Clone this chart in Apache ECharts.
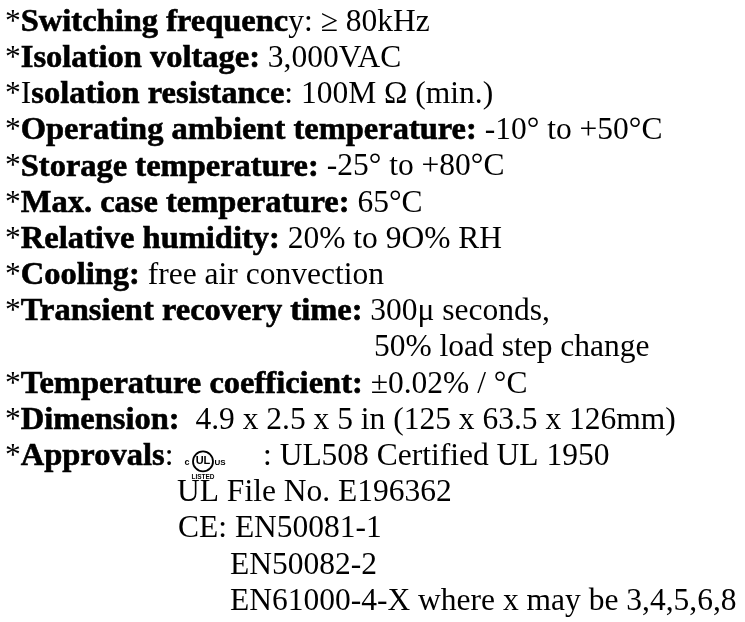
<!DOCTYPE html>
<html>
<head>
<meta charset="utf-8">
<script src="https://cdn.jsdelivr.net/npm/echarts@6/dist/echarts.min.js"></script>
<style>
  html, body { margin: 0; padding: 0; background: #fff; }
  #main { width: 745px; height: 622px; }
</style>
</head>
<body>
<div id="main"></div>
<script>
// spec lines, {r|} = regular, {b|} = bold
const specLines = [
  '{r|*}{b|Switching frequenc}{r|y: ≥ 80kHz}',
  '{r|*}{b|Isolation voltage:}{r| 3,000VAC}',
  '{r|*I}{b|solation resistance}{r|: 100M Ω (min.)}',
  '{r|*}{b|Operating ambient temperature:}{r| -10° to +50°C}',
  '{r|*}{b|Storage temperature:}{r| -25° to +80°C}',
  '{r|*}{b|Max. case temperature:}{r| 65°C}',
  '{r|*}{b|Relative humidity:}{r| 20% to 9O% RH}',
  '{r|*}{b|Cooling:}{r| free air convection}',
  '{r|*}{b|Transient recovery time:}{r| 300μ seconds,}',
  '{r|50% load step change}',
  '{r|*}{b|Temperature coefficient:}{r| ±0.02% / °C}',
  '{r|*}{b|Dimension:}{r|  4.9 x 2.5 x 5 in (125 x 63.5 x 126mm)}',
  '{r|*}{b|Approvals}{r|:}',
  '{r|UL File No. E196362}',
  '{r|CE: EN50081-1}',
  '{r|EN50082-2}',
  '{r|EN61000-4-X where x may be 3,4,5,6,8}'
];
const lineIndent = [5, 5, 5, 5, 5, 5, 5, 5, 5, 374, 5, 5, 5, 177, 178, 230, 230];
const approvalText = ': UL508 Certified UL 1950';

const chart = echarts.init(document.getElementById('main'), null, { renderer: 'canvas' });

const font = 'Liberation Serif';
const fontSize = 31.5;
const boldSize = 32.5;
const firstBase = 33;
const step = 36.2;
const mid = fontSize * 0.3375;

const rich = {
  r: { fontFamily: font, fontSize: fontSize, fontWeight: 'normal', fill: '#000', lineHeight: boldSize },
  b: {
    fontFamily: font, fontSize: boldSize, fontWeight: 'bold', fill: '#000', lineHeight: boldSize,
    stroke: '#000', lineWidth: 0.6
  }
};

const elements = specLines.map((t, i) => ({
  type: 'text',
  x: lineIndent[i],
  y: firstBase + i * step - mid,
  style: {
    text: t,
    rich: rich,
    font: fontSize + 'px "' + font + '"',
    verticalAlign: 'middle',
    align: 'left'
  }
}));

// UL listed mark
const ulBase = firstBase + 12 * step;
elements.push(
  { type: 'circle', shape: { cx: 203, cy: ulBase - 6, r: 10 }, style: { fill: 'none', stroke: '#000', lineWidth: 1.8 } },
  { type: 'text', x: 203, y: ulBase - 6, style: { text: 'UL', font: 'bold 11px "Liberation Sans"', fill: '#000', align: 'center', verticalAlign: 'middle' } },
  { type: 'text', x: 187, y: ulBase - 5, style: { text: 'c', font: 'bold 9px "Liberation Sans"', fill: '#000', align: 'center', verticalAlign: 'middle' } },
  { type: 'text', x: 220, y: ulBase - 5, style: { text: 'US', font: 'bold 8px "Liberation Sans"', fill: '#000', align: 'center', verticalAlign: 'middle' } },
  { type: 'text', x: 203, y: ulBase + 10, style: { text: 'LISTED', font: 'bold 6.5px "Liberation Sans"', fill: '#000', align: 'center', verticalAlign: 'middle' } },
  {
    type: 'text', x: 263, y: ulBase - mid,
    style: { text: approvalText, font: fontSize + 'px "' + font + '"', fill: '#000', verticalAlign: 'middle' }
  }
);

chart.setOption({
  backgroundColor: '#ffffff',
  animation: false,
  graphic: { elements: elements }
});
</script>
</body>
</html>
